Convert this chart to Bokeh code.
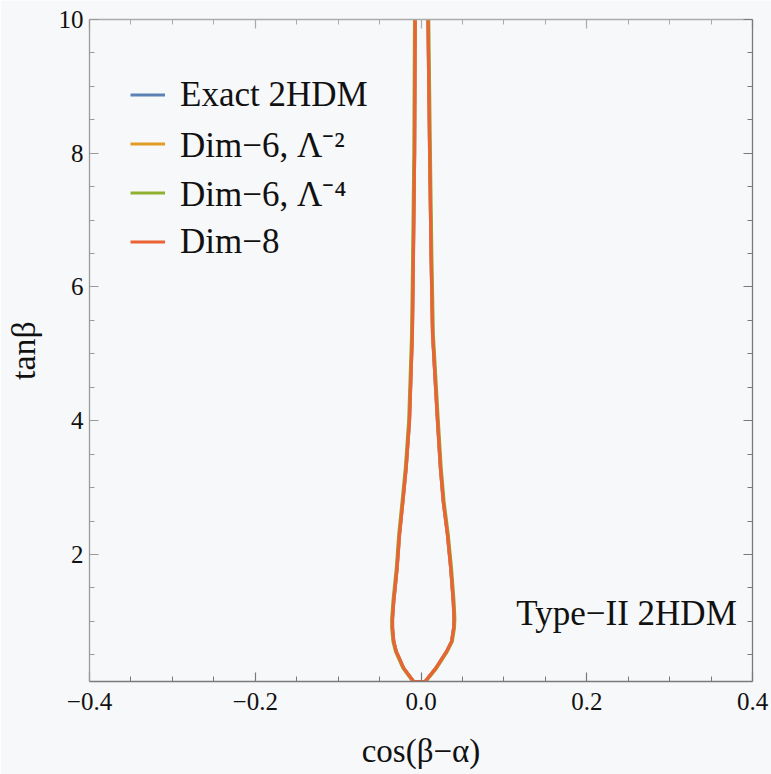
from bokeh.plotting import figure
from bokeh.models import (Range1d, FixedTicker, LinearAxis, Label, Legend, LegendItem,
                          ColumnDataSource)
from bokeh.embed import file_html
from bokeh.resources import INLINE

# ---------------- data ----------------
tan_beta = [0.1, 0.3, 0.55, 0.7, 0.9, 1.04, 1.3, 1.79, 2.3, 2.79, 3.3, 4.0, 5.3, 6.5, 8.0, 10.0]

dim8_left = [-0.009, -0.021, -0.030, -0.033, -0.0345, -0.0345, -0.033, -0.029, -0.026,
             -0.022, -0.018, -0.014, -0.0105, -0.0092, -0.0078, -0.007]
dim8_right = [0.005, 0.018, 0.031, 0.037, 0.0395, 0.040, 0.039, 0.036, 0.032,
              0.027, 0.0235, 0.020, 0.014, 0.0122, 0.0105, 0.0085]

exact_left = [-0.0088, -0.0208, -0.0298, -0.0328, -0.0343, -0.0343, -0.0328, -0.0288, -0.0258,
              -0.0218, -0.0178, -0.0138, -0.0104, -0.0091, -0.0077, -0.0069]
exact_right = [0.0049, 0.0178, 0.0308, 0.0368, 0.0393, 0.0398, 0.0388, 0.0358, 0.0318,
               0.0268, 0.0233, 0.0198, 0.0139, 0.0121, 0.0104, 0.0084]

dim6_l2_left = [-0.0089, -0.0209, -0.0299, -0.0329, -0.0344, -0.0344, -0.0329, -0.0289, -0.0259,
                -0.0219, -0.0179, -0.0139, -0.0104, -0.0091, -0.0077, -0.0069]
dim6_l2_right = [0.0049, 0.0179, 0.0309, 0.0369, 0.0394, 0.0399, 0.0389, 0.0359, 0.0319,
                 0.0269, 0.0234, 0.0199, 0.0139, 0.0121, 0.0104, 0.0084]

dim6_l4_left = [-0.0098, -0.0218, -0.0308, -0.0338, -0.0353, -0.0353, -0.0338, -0.0298, -0.0268,
                -0.0228, -0.0188, -0.0148, -0.0113, -0.0100, -0.0086, -0.0078]
dim6_l4_right = [0.0058, 0.0188, 0.0318, 0.0378, 0.0403, 0.0408, 0.0398, 0.0368, 0.0328,
                 0.0278, 0.0243, 0.0208, 0.0148, 0.0130, 0.0113, 0.0093]

series_names = ["Exact 2HDM", "Dim\u22126, \u039b\u207b\u00b2", "Dim\u22126, \u039b\u207b\u2074", "Dim\u22128"]
series_colors = ["#5E81B5", "#E19C24", "#8FB032", "#EB6235"]
series_left = [exact_left, dim6_l2_left, dim6_l4_left, dim8_left]
series_right = [exact_right, dim6_l2_right, dim6_l4_right, dim8_right]

x_ticks = [-0.4, -0.2, 0.0, 0.2, 0.4]
x_tick_labels = ["\u22120.4", "\u22120.2", "0.0", "0.2", "0.4"]
x_minor = [-0.35, -0.3, -0.25, -0.15, -0.1, -0.05, 0.05, 0.1, 0.15, 0.25, 0.3, 0.35]
y_ticks = [2, 4, 6, 8, 10]
y_tick_labels = ["2", "4", "6", "8", "10"]
y_minor = [0.5, 1.0, 1.5, 2.5, 3.0, 3.5, 4.5, 5.0, 5.5, 6.5, 7.0, 7.5, 8.5, 9.0, 9.5]

x_title = "cos(\u03b2\u2212\u03b1)"
y_title = "tan\u03b2"
panel_text = "Type\u2212II 2HDM"

# ---------------- figure ----------------
BG = "#F7F8FA"
FONT = "Liberation Serif"

p = figure(width=771, height=774, x_range=Range1d(-0.4, 0.4), y_range=Range1d(0.1, 10),
           output_backend="svg", toolbar_location=None,
           min_border_left=89, min_border_right=19, min_border_top=19, min_border_bottom=93,
           background_fill_color=BG, border_fill_color=BG, outline_line_color=None)
p.xgrid.visible = False
p.ygrid.visible = False

x_ticker = FixedTicker(ticks=x_ticks, minor_ticks=x_minor)
y_ticker = FixedTicker(ticks=y_ticks, minor_ticks=y_minor)


def style_axis(ax, color):
    ax.axis_line_color = color
    ax.axis_line_width = 1.3
    ax.major_tick_line_color = color
    ax.minor_tick_line_color = color
    ax.major_tick_in = 9
    ax.major_tick_out = 0
    ax.minor_tick_in = 5
    ax.minor_tick_out = 0
    ax.major_tick_line_width = 1.2
    ax.minor_tick_line_width = 1.0
    ax.major_label_text_font = FONT
    ax.major_label_text_font_size = "25px"
    ax.major_label_text_color = "#111111"
    ax.axis_label_text_font = FONT
    ax.axis_label_text_font_style = "normal"
    ax.axis_label_text_color = "#111111"


xa = p.xaxis[0]
xa.ticker = x_ticker
xa.major_label_overrides = {t: s for t, s in zip(x_ticks, x_tick_labels)}
style_axis(xa, "#7a7a7a")
xa.major_label_standoff = 11
xa.axis_label = x_title
xa.axis_label_text_font_size = "33px"
xa.axis_label_standoff = 20

ya = p.yaxis[0]
ya.ticker = y_ticker
ya.major_label_overrides = {t: s for t, s in zip(y_ticks, y_tick_labels)}
style_axis(ya, "#9a9a9a")
ya.major_label_standoff = 6
ya.axis_label = y_title
ya.axis_label_text_font_size = "34px"
ya.axis_label_standoff = 14

top_ax = LinearAxis(ticker=x_ticker)
style_axis(top_ax, "#aaaaaa")
top_ax.major_label_overrides = {t: "" for t in x_ticks}
top_ax.major_label_text_font_size = "1px"
top_ax.major_label_standoff = 0
p.add_layout(top_ax, "above")

right_ax = LinearAxis(ticker=y_ticker)
style_axis(right_ax, "#7a7a7a")
right_ax.major_label_overrides = {t: "" for t in y_ticks}
right_ax.major_label_text_font_size = "1px"
right_ax.major_label_standoff = 0
p.add_layout(right_ax, "right")

renderers = []
for name, color, xl, xr in zip(series_names, series_colors, series_left, series_right):
    xs = list(reversed(xl)) + list(xr)
    ys = list(reversed(tan_beta)) + list(tan_beta)
    src = ColumnDataSource(dict(x=xs, y=ys))
    r = p.line("x", "y", source=src, line_color=color, line_width=3.2, line_join="round")
    renderers.append(r)

legend = Legend(items=[LegendItem(label=n, renderers=[r]) for n, r in zip(series_names, renderers)],
                location=(41, 415), margin=0, padding=0, spacing=0,
                label_height=49, glyph_height=49, glyph_width=35, label_standoff=15,
                label_text_font=FONT, label_text_font_size="35px", label_text_color="#111111",
                border_line_alpha=0, background_fill_alpha=0)
p.add_layout(legend)

p.add_layout(Label(x=0.381, y=1.12, text=panel_text, text_align="right", text_baseline="middle",
                   text_font=FONT, text_font_size="35px", text_color="#111111"))

open("out.html", "w").write(file_html(p, INLINE))
